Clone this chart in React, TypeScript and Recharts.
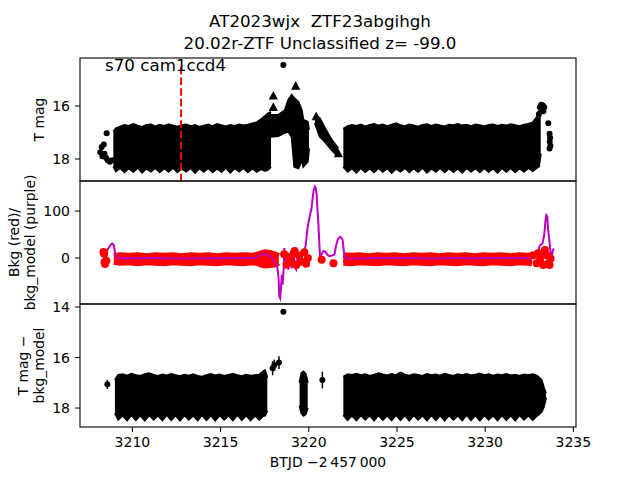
import { ComposedChart, Area, Line, Scatter, XAxis, YAxis, ErrorBar } from 'recharts'

const FONT = 'DejaVu Sans'

// shared time axis (BTJD - 2457000)
const T_DOMAIN: [number, number] = [3207.03, 3235.15]
const T_TICKS = [3210, 3215, 3220, 3225, 3230, 3235]

// ---- panel 1: T mag ----
const MAG_DOMAIN: [number, number] = [14.19, 18.83]
const MAG_TICKS = [16, 18]
const SECTOR_LINE_T = 3212.76

// [t, top mag, bottom mag] envelopes of the dense photometry
const magLeftBlock = [
  [3208.92, 16.97, 18.28], [3209.07, 16.84, 18.46], [3209.3, 16.78, 18.34], [3209.55, 16.72, 18.5],
  [3209.8, 16.75, 18.35], [3210.05, 16.68, 18.49], [3210.3, 16.74, 18.33], [3210.55, 16.79, 18.51],
  [3210.8, 16.72, 18.36], [3211.05, 16.7, 18.47], [3211.3, 16.77, 18.34], [3211.55, 16.71, 18.5],
  [3211.8, 16.75, 18.35], [3212.05, 16.69, 18.48], [3212.3, 16.74, 18.33], [3212.55, 16.78, 18.5],
  [3212.8, 16.73, 18.36], [3213.05, 16.7, 18.47], [3213.3, 16.76, 18.34], [3213.55, 16.72, 18.52],
  [3213.8, 16.79, 18.35], [3214.05, 16.74, 18.48], [3214.3, 16.7, 18.34], [3214.55, 16.76, 18.5],
  [3214.8, 16.68, 18.36], [3215.05, 16.73, 18.49], [3215.3, 16.77, 18.33], [3215.55, 16.72, 18.51],
  [3215.8, 16.75, 18.35], [3216.05, 16.7, 18.47], [3216.3, 16.74, 18.34], [3216.55, 16.71, 18.5],
  [3216.8, 16.66, 18.36], [3217.05, 16.62, 18.48], [3217.3, 16.5, 18.38], [3217.52, 16.38, 18.45],
  [3217.7, 16.28, 18.4], [3217.86, 16.22, 18.3],
]
const magMidBlock = [
  [3217.86, 16.34, 17.16], [3218.27, 16.34, 17.13], [3218.65, 16.15, 17.0], [3218.84, 15.77, 16.97],
  [3219.03, 15.58, 17.16], [3219.18, 15.71, 18.29], [3219.41, 15.84, 18.35], [3219.6, 16.15, 18.04],
  [3219.69, 16.53, 18.29], [3219.94, 16.59, 18.1], [3220.01, 16.9, 17.6],
]
const magLimitBand = [
  [3220.35, 16.34, 16.65], [3220.63, 16.47, 17.16], [3220.92, 16.84, 17.35],
  [3221.3, 17.28, 17.66], [3221.67, 17.6, 17.91],
]
const magRightBlock = [
  [3221.96, 16.86, 18.3], [3222.2, 16.76, 18.48], [3222.45, 16.72, 18.35], [3222.7, 16.75, 18.51],
  [3222.95, 16.7, 18.34], [3223.2, 16.77, 18.49], [3223.45, 16.72, 18.36], [3223.7, 16.68, 18.5],
  [3223.95, 16.74, 18.34], [3224.2, 16.7, 18.48], [3224.45, 16.76, 18.35], [3224.7, 16.71, 18.52],
  [3224.95, 16.65, 18.36], [3225.2, 16.73, 18.47], [3225.45, 16.76, 18.34], [3225.7, 16.7, 18.5],
  [3225.95, 16.74, 18.35], [3226.2, 16.78, 18.49], [3226.45, 16.72, 18.33], [3226.7, 16.69, 18.51],
  [3226.95, 16.75, 18.36], [3227.2, 16.7, 18.48], [3227.45, 16.74, 18.34], [3227.7, 16.77, 18.5],
  [3227.95, 16.71, 18.35], [3228.2, 16.73, 18.49], [3228.45, 16.68, 18.36], [3228.7, 16.74, 18.51],
  [3228.95, 16.71, 18.34], [3229.2, 16.76, 18.48], [3229.45, 16.7, 18.35], [3229.7, 16.73, 18.5],
  [3229.95, 16.77, 18.34], [3230.2, 16.72, 18.49], [3230.45, 16.7, 18.36], [3230.7, 16.75, 18.51],
  [3230.95, 16.71, 18.35], [3231.2, 16.74, 18.48], [3231.45, 16.69, 18.34], [3231.7, 16.73, 18.5],
  [3231.95, 16.76, 18.35], [3232.2, 16.71, 18.48], [3232.45, 16.68, 18.34], [3232.7, 16.62, 18.45],
  [3232.9, 16.45, 18.35], [3233.05, 16.21, 18.28], [3233.15, 16.05, 17.8],
]
// [t, mag] single detections
const magDots = [
  [3218.56, 14.45], [3208.54, 17.03],
  [3208.18, 17.75], [3208.26, 17.55], [3208.3, 17.9], [3208.38, 17.45], [3208.42, 17.8],
  [3208.5, 17.95], [3208.6, 18.05], [3208.72, 18.1], [3208.85, 18.05],
  [3233.1, 16.05], [3233.18, 15.95], [3233.27, 15.98], [3233.35, 16.05], [3233.22, 16.15],
  [3233.05, 16.3], [3233.3, 16.2],
  [3233.58, 16.65], [3233.65, 17.05], [3233.68, 17.2], [3233.66, 17.35], [3233.7, 17.5], [3233.65, 17.6],
]
// [t, mag] upper limits
const magLimits = [
  [3217.99, 15.62], [3217.99, 16.05], [3219.26, 15.25], [3220.42, 16.4], [3221.68, 17.8],
]

// ---- panel 2: background ----
const BKG_DOMAIN: [number, number] = [-98, 164]
const BKG_TICKS = [0, 100]
// [t, high, low]
const bkgLeftBand = [
  [3208.95, 4, -8], [3209.3, 6, -10], [3209.8, 5, -9], [3210.3, 6, -11], [3210.8, 4, -9],
  [3211.3, 6, -10], [3211.8, 5, -11], [3212.3, 6, -9], [3212.8, 4, -10], [3213.3, 6, -11],
  [3213.8, 5, -9], [3214.3, 6, -10], [3214.8, 4, -11], [3215.3, 6, -9], [3215.8, 5, -10],
  [3216.3, 6, -11], [3216.8, 5, -9], [3217.1, 7, -11], [3217.3, 10, -14], [3217.55, 12, -16],
  [3217.8, 11, -15], [3218.05, 8, -14], [3218.3, 4, -10],
]
const bkgRightBand = [
  [3221.96, 6, -10], [3222.4, 5, -11], [3222.9, 6, -9], [3223.4, 4, -10], [3223.9, 6, -11],
  [3224.4, 5, -9], [3224.9, 6, -10], [3225.4, 4, -11], [3225.9, 6, -9], [3226.4, 5, -10],
  [3226.9, 6, -11], [3227.4, 4, -9], [3227.9, 6, -10], [3228.4, 5, -11], [3228.9, 6, -9],
  [3229.4, 4, -10], [3229.9, 6, -11], [3230.4, 5, -9], [3230.9, 6, -10], [3231.4, 4, -11],
  [3231.9, 6, -9], [3232.4, 5, -10], [3232.65, 6, -12],
]
const bkgDots = [
  [3208.36, 13], [3208.4, 9], [3208.45, -13], [3208.42, -9], [3208.52, -6],
  [3218.6, 8], [3218.75, -14], [3218.9, 2], [3219.05, -10], [3219.15, 10], [3219.2, 15],
  [3219.3, -15], [3219.45, 5], [3219.6, -8], [3219.75, 12], [3219.85, -12], [3219.95, 0],
  [3220.73, -4], [3221.4, -11],
  [3232.73, 6], [3232.92, -11], [3233.0, 10], [3233.11, -4], [3233.2, 8], [3233.29, -15],
  [3233.39, 17], [3233.48, 6], [3233.58, -11], [3233.65, -15], [3233.71, -1],
]
const bkgModel = [
  [3208.31, 10], [3208.45, 3], [3208.6, 18], [3208.73, 26], [3208.85, 31], [3208.95, 27],
  [3209.03, 8], [3209.12, 1], [3209.26, -0.5], [3210, -0.7], [3211, 0], [3212, -0.5],
  [3213, -1], [3214, -0.5], [3215, -0.7], [3216, 0], [3217, 0.5], [3217.33, 8], [3217.6, 8],
  [3217.9, 1], [3218.08, -8], [3218.22, -20], [3218.29, -45], [3218.33, -82], [3218.38, -86],
  [3218.43, -60], [3218.47, -36], [3218.52, -57], [3218.58, -20], [3218.62, 21], [3218.67, -22],
  [3218.72, 0], [3218.77, 13], [3218.84, -25], [3218.9, 2], [3218.96, 6], [3219.03, -22],
  [3219.08, 10], [3219.14, 13], [3219.2, -18], [3219.28, -24], [3219.36, 0], [3219.43, -4],
  [3219.5, 13], [3219.57, -5], [3219.65, 6], [3219.75, 17], [3219.83, 27], [3219.9, 56],
  [3219.99, 77], [3220.09, 95], [3220.16, 106], [3220.22, 128], [3220.28, 145], [3220.35, 152],
  [3220.4, 148], [3220.45, 134], [3220.5, 100], [3220.54, 77], [3220.6, 30], [3220.64, 3],
  [3220.7, 6], [3220.83, 15], [3220.95, 13], [3221.05, 7], [3221.16, 4], [3221.3, 5],
  [3221.45, 7], [3221.55, 27], [3221.65, 40], [3221.77, 45], [3221.85, 43], [3221.92, 38],
  [3222.0, 10], [3222.05, 1], [3222.2, -0.5], [3223, -1], [3224, 0], [3225, -0.5], [3226, 0],
  [3227, -1], [3228, 0], [3229, -0.7], [3230, -0.5], [3231, 0], [3232, -0.5], [3232.6, 0],
  [3232.73, 2], [3232.92, 8], [3233.11, 27], [3233.25, 31], [3233.35, 49], [3233.42, 80],
  [3233.47, 91], [3233.52, 88], [3233.57, 60], [3233.64, 38], [3233.71, 10], [3233.78, 5],
  [3233.85, 18], [3233.9, 20],
]

// ---- panel 3: T mag - bkg_model ----
const DIFF_DOMAIN: [number, number] = [13.88, 18.75]
const DIFF_TICKS = [14, 16, 18]
const diffLeftBlock = [
  [3209.01, 16.89, 18.2], [3209.2, 16.69, 18.46], [3209.45, 16.66, 18.3], [3209.7, 16.72, 18.48],
  [3209.95, 16.64, 18.28], [3210.2, 16.7, 18.47], [3210.45, 16.73, 18.29], [3210.7, 16.66, 18.49],
  [3210.95, 16.62, 18.28], [3211.2, 16.69, 18.46], [3211.45, 16.73, 18.3], [3211.7, 16.67, 18.48],
  [3211.95, 16.71, 18.27], [3212.2, 16.65, 18.47], [3212.45, 16.7, 18.29], [3212.7, 16.74, 18.49],
  [3212.95, 16.68, 18.28], [3213.2, 16.72, 18.46], [3213.45, 16.66, 18.3], [3213.7, 16.73, 18.48],
  [3213.95, 16.76, 18.28], [3214.2, 16.7, 18.47], [3214.45, 16.65, 18.29], [3214.7, 16.71, 18.49],
  [3214.95, 16.67, 18.28], [3215.2, 16.73, 18.46], [3215.45, 16.69, 18.3], [3215.7, 16.64, 18.48],
  [3215.95, 16.7, 18.27], [3216.2, 16.74, 18.47], [3216.45, 16.68, 18.29], [3216.7, 16.72, 18.48],
  [3216.95, 16.7, 18.3], [3217.2, 16.68, 18.46], [3217.4, 16.55, 18.32], [3217.52, 16.5, 18.3],
  [3217.65, 16.8, 18.1],
]
const diffBlob = [
  [3219.48, 17.0, 17.9], [3219.58, 16.62, 18.2], [3219.7, 16.56, 18.3], [3219.82, 16.65, 18.25],
  [3219.94, 17.0, 18.0],
]
const diffRightBlock = [
  [3221.96, 16.76, 18.28], [3222.2, 16.66, 18.47], [3222.45, 16.69, 18.3], [3222.7, 16.64, 18.48],
  [3222.95, 16.7, 18.28], [3223.2, 16.66, 18.46], [3223.45, 16.73, 18.29], [3223.7, 16.68, 18.49],
  [3223.95, 16.62, 18.28], [3224.2, 16.67, 18.47], [3224.45, 16.71, 18.3], [3224.7, 16.65, 18.48],
  [3224.95, 16.7, 18.27], [3225.2, 16.6, 18.47], [3225.45, 16.68, 18.29], [3225.7, 16.72, 18.49],
  [3225.95, 16.66, 18.28], [3226.2, 16.69, 18.46], [3226.45, 16.73, 18.3], [3226.7, 16.65, 18.48],
  [3226.95, 16.7, 18.28], [3227.2, 16.67, 18.47], [3227.45, 16.72, 18.29], [3227.7, 16.64, 18.49],
  [3227.95, 16.69, 18.28], [3228.2, 16.73, 18.46], [3228.45, 16.66, 18.3], [3228.7, 16.7, 18.48],
  [3228.95, 16.65, 18.27], [3229.2, 16.71, 18.47], [3229.45, 16.68, 18.29], [3229.7, 16.63, 18.49],
  [3229.95, 16.7, 18.28], [3230.2, 16.66, 18.46], [3230.45, 16.72, 18.3], [3230.7, 16.67, 18.48],
  [3230.95, 16.7, 18.28], [3231.2, 16.65, 18.47], [3231.45, 16.71, 18.29], [3231.7, 16.68, 18.49],
  [3231.95, 16.73, 18.28], [3232.2, 16.67, 18.46], [3232.45, 16.7, 18.3], [3232.7, 16.66, 18.47],
  [3232.95, 16.73, 18.3], [3233.2, 16.89, 18.15], [3233.33, 17.2, 17.95], [3233.45, 17.42, 17.58],
]
// [t, mag, error]
const diffPoints = [
  [3208.58, 17.06, 0.18], [3217.95, 16.42, 0.28], [3218.05, 16.3, 0.22],
  [3218.31, 16.2, 0.25], [3218.56, 14.19, 0], [3220.77, 16.89, 0.33],
]

const toRange = (rows: number[][]) => rows.map(([t, a, b]) => ({ t, r: [a, b] }))
const toPts = (rows: number[][]) => rows.map(([t, m, e]) => ({ t, m, e: e ?? 0 }))

const PLOT_W = 496
const PLOT_H = 123
const MARGIN = { top: 10, right: 64, bottom: 10, left: 0 }
const tickStyle = { fill: '#000', fontSize: 14, fontFamily: FONT }

const dot = (r: number, fill: string) => (p: any) =>
  <circle cx={p.cx} cy={p.cy} r={r} fill={fill} />
const triangle = (p: any) => (
  <path d={`M${p.cx},${p.cy - 5} L${p.cx + 4.6},${p.cy + 3.6} L${p.cx - 4.6},${p.cy + 3.6} Z`} fill="#000" />
)

function yAxis(domain: [number, number], ticks: number[], reversed: boolean) {
  return (
    <YAxis
      type="number"
      domain={domain}
      ticks={ticks}
      reversed={reversed}
      allowDataOverflow
      interval={0}
      width={80}
      tick={tickStyle}
      tickSize={5}
      tickMargin={5}
      tickLine={{ stroke: '#000' }}
      axisLine={false}
    />
  )
}

export default function App() {
  const blockProps = {
    dataKey: 'r',
    type: 'linear' as const,
    fill: '#000',
    fillOpacity: 1,
    stroke: '#000',
    strokeWidth: 2,
    isAnimationActive: false,
  }
  return (
    <div style={{ position: 'absolute', left: 0, top: 0, width: 640, height: 480, background: '#fff', fontFamily: FONT }}>
      <div style={{ position: 'absolute', left: 0, top: 48 }}>
        <ComposedChart width={640} height={PLOT_H + 20} margin={MARGIN}>
          <XAxis type="number" dataKey="t" domain={T_DOMAIN} allowDataOverflow hide />
          {yAxis(MAG_DOMAIN, MAG_TICKS, true)}
          <Area {...blockProps} data={toRange(magLeftBlock)} />
          <Area {...blockProps} data={toRange(magMidBlock)} />
          <Area {...blockProps} data={toRange(magLimitBand)} />
          <Area {...blockProps} data={toRange(magRightBlock)} />
          <Scatter data={toPts(magDots)} dataKey="m" shape={dot(3, '#000')} isAnimationActive={false} />
          <Scatter data={toPts(magLimits)} dataKey="m" shape={triangle} isAnimationActive={false} />
          <Line
            data={toPts([[SECTOR_LINE_T, 14.52], [SECTOR_LINE_T, 18.83]])}
            dataKey="m"
            stroke="#ff0000"
            strokeWidth={2}
            strokeDasharray="7.5 3.2"
            dot={false}
            isAnimationActive={false}
          />
        </ComposedChart>
      </div>
      <div style={{ position: 'absolute', left: 0, top: 171 }}>
        <ComposedChart width={640} height={PLOT_H + 20} margin={MARGIN}>
          <XAxis type="number" dataKey="t" domain={T_DOMAIN} allowDataOverflow hide />
          {yAxis(BKG_DOMAIN, BKG_TICKS, false)}
          <Area {...blockProps} data={toRange(bkgLeftBand)} fill="#ff0000" stroke="#ff0000" strokeWidth={6} />
          <Area {...blockProps} data={toRange(bkgRightBand)} fill="#ff0000" stroke="#ff0000" strokeWidth={6} />
          <Scatter data={toPts(bkgDots)} dataKey="m" shape={dot(4, '#ff0000')} isAnimationActive={false} />
          <Line data={toPts(bkgModel)} dataKey="m" type="linear" stroke="#bf00bf" strokeWidth={2} dot={false} isAnimationActive={false} />
        </ComposedChart>
      </div>
      <div style={{ position: 'absolute', left: 0, top: 294 }}>
        <ComposedChart width={640} height={PLOT_H + 50} margin={MARGIN}>
          <XAxis
            type="number"
            dataKey="t"
            domain={T_DOMAIN}
            ticks={T_TICKS}
            interval={0}
            allowDataOverflow
            height={30}
            tick={tickStyle}
            tickSize={5}
            tickMargin={5}
            tickLine={{ stroke: '#000' }}
            axisLine={false}
          />
          {yAxis(DIFF_DOMAIN, DIFF_TICKS, true)}
          <Area {...blockProps} data={toRange(diffLeftBlock)} />
          <Area {...blockProps} data={toRange(diffBlob)} />
          <Area {...blockProps} data={toRange(diffRightBlock)} />
          <Scatter data={toPts(diffPoints)} dataKey="m" shape={dot(3, '#000')} isAnimationActive={false}>
            <ErrorBar dataKey="e" direction="y" width={0} stroke="#000" strokeWidth={1.5} />
          </Scatter>
        </ComposedChart>
      </div>
      <svg width={640} height={480} style={{ position: 'absolute', left: 0, top: 0, pointerEvents: 'none' }} fontFamily={FONT}>
        <rect x={80} y={58} width={PLOT_W} height={PLOT_H} fill="none" stroke="#000" strokeWidth={1.1} />
        <rect x={80} y={181} width={PLOT_W} height={PLOT_H} fill="none" stroke="#000" strokeWidth={1.1} />
        <rect x={80} y={304} width={PLOT_W} height={PLOT_H} fill="none" stroke="#000" strokeWidth={1.1} />
        <text x={320} y={26.5} textAnchor="middle" fontSize={16.7}>AT2023wjx{'\u00a0\u00a0'}ZTF23abgihgh</text>
        <text x={320} y={49} textAnchor="middle" fontSize={16.7}>20.02r-ZTF Unclassified z= -99.0</text>
        <text x={105} y={71} fontSize={16.7}>s70 cam1ccd4</text>
        <text transform="translate(44,119.5) rotate(-90)" textAnchor="middle" fontSize={13.9}>T mag</text>
        <text transform="translate(18.5,242.5) rotate(-90)" textAnchor="middle" fontSize={13.9}>Bkg (red)/</text>
        <text transform="translate(35,242.5) rotate(-90)" textAnchor="middle" fontSize={13.9}>bkg_model (purple)</text>
        <text transform="translate(27.5,365.5) rotate(-90)" textAnchor="middle" fontSize={13.9}>T mag −</text>
        <text transform="translate(44,365.5) rotate(-90)" textAnchor="middle" fontSize={13.9}>bkg_model</text>
        <text x={328} y={467} textAnchor="middle" fontSize={13.9}>BTJD −2{'\u2009'}457{'\u2009'}000</text>
      </svg>
    </div>
  )
}
